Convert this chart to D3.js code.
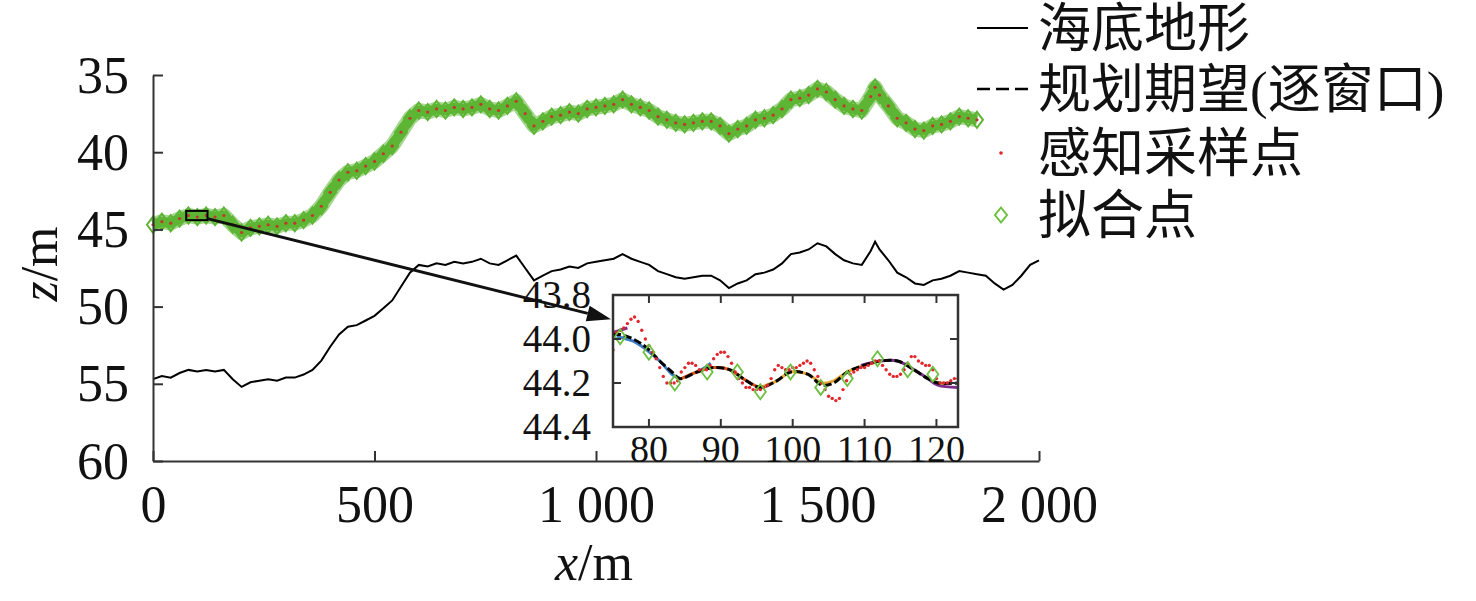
<!DOCTYPE html>
<html><head><meta charset="utf-8">
<script src="https://cdn.jsdelivr.net/npm/d3@7/dist/d3.min.js"></script>
<style>html,body{margin:0;padding:0;background:#fff;} svg{display:block;}</style>
</head><body><svg id="c" width="1476" height="601"></svg>
<script>
// ---------------- data ----------------
const terrainX = [0,20,40,60,80,100,120,140,160,180,200,220,240,260,280,300,320,340,360,380,
  400,420,440,460,480,500,520,540,560,580,600,620,640,660,680,700,720,740,760,780,
  800,820,840,860,880,900,920,940,960,980,1000,1020,1040,1060,1080,1100,1120,1140,1160,1180,
  1200,1220,1240,1260,1280,1300,1320,1340,1360,1380,1400,1420,1440,1460,1480,1500,1520,1540,1560,1580,
  1600,1620,1630,1640,1660,1680,1700,1720,1740,1760,1780,1800,1820,1840,1860,1880,1900,1920,1940,1960,1980,2000];
const terrainZ = [54.7,54.5,54.6,54.3,54.1,54.2,54.1,54.2,54.1,54.7,55.2,54.9,54.8,54.7,54.8,54.6,54.6,54.4,54.1,53.5,
  52.6,51.8,51.3,51.2,50.9,50.6,50.1,49.6,48.7,47.8,47.3,47.4,47.2,47.3,47.1,47.2,47.1,46.9,47.2,47.3,
  47.0,46.7,47.5,48.3,48.0,47.7,47.6,47.4,47.5,47.2,47.1,47.0,46.9,46.6,46.9,47.1,47.3,47.7,47.9,48.1,
  48.2,48.1,48.0,48.0,48.3,48.8,48.5,48.3,47.9,47.8,47.6,47.2,46.6,46.5,46.3,45.9,46.1,46.6,47.0,47.2,
  47.3,46.4,45.8,46.3,47.0,47.8,48.1,48.5,48.6,48.3,48.2,48.0,47.7,47.8,47.9,48.0,48.5,48.9,48.6,48.0,47.3,47.0];

const planX = [0,20,40,60,80,100,120,140,160,180,200,220,240,260,280,300,320,340,360,380,
  400,420,440,460,480,500,520,540,560,580,600,620,640,660,680,700,720,740,760,780,
  800,820,840,860,880,900,920,940,960,980,1000,1020,1040,1060,1080,1100,1120,1140,1160,1180,
  1200,1220,1240,1260,1280,1300,1320,1340,1360,1380,1400,1420,1440,1460,1480,1500,1520,1540,1560,1580,
  1600,1620,1630,1640,1660,1680,1700,1720,1740,1760,1780,1800,1820,1840,1860];
const planZ = [44.7,44.5,44.6,44.3,44.1,44.2,44.1,44.2,44.1,44.7,45.2,44.9,44.8,44.7,44.8,44.6,44.6,44.4,44.1,43.5,
  42.6,41.8,41.3,41.2,40.9,40.6,40.1,39.6,38.7,37.8,37.3,37.4,37.2,37.3,37.1,37.2,37.1,36.9,37.2,37.3,
  37.0,36.7,37.5,38.3,38.0,37.7,37.6,37.4,37.5,37.2,37.1,37.0,36.9,36.6,36.9,37.1,37.3,37.7,37.9,38.1,
  38.2,38.1,38.0,38.0,38.3,38.8,38.5,38.3,37.9,37.8,37.6,37.2,36.6,36.5,36.3,35.9,36.1,36.6,37.0,37.2,
  37.3,36.4,35.8,36.3,37.0,37.8,38.1,38.5,38.6,38.3,38.2,38.0,37.7,37.8,37.9];

const xTicks = [0,500,1000,1500,2000];
const xTickLabels = ["0","500","1 000","1 500","2 000"];
const yTicks = [35,40,45,50,55,60];

// zoom window
const zoomXRange = [75,123];
const zoomZRange = [43.8,44.4];
const insetXTicks = [80,90,100,110,120];
const insetYTicks = [43.8,44.0,44.2,44.4];
const insetYLabels = ["43.8","44.0","44.2","44.4"];

// inset: planned expectation (dashed black)
const insetPlanX = [75,76,77.8,79.7,81.5,83.2,84.3,86.7,89,91.3,93.1,95.5,97.8,99.7,102.1,104.1,105.7,107.6,109.9,112.2,114.6,116.4,118.8,120.2,123];
const insetPlanZ = [43.98,43.98,44.0,44.04,44.1,44.15,44.18,44.15,44.13,44.14,44.18,44.22,44.19,44.15,44.16,44.21,44.2,44.15,44.12,44.1,44.1,44.13,44.18,44.2,44.2];

// inset: sensing samples (red dots)
const sensX = [75,75.5,76,76.5,77,77.5,78,78.5,79,79.5,80,80.5,81,81.5,82,82.5,83,83.5,84,84.5,
  85,85.5,86,86.5,87,87.5,88,88.5,89,89.5,90,90.5,91,91.5,92,92.5,93,93.5,94,94.5,
  95,95.5,96,96.5,97,97.5,98,98.5,99,99.5,100,100.5,101,101.5,102,102.5,103,103.5,104,104.5,
  105,105.5,106,106.5,107,107.5,108,108.5,109,109.5,110,110.5,111,111.5,112,112.5,113,113.5,114,114.5,
  115,115.5,116,116.5,117,117.5,118,118.5,119,119.5,120,120.5,121,121.5,122,122.5,123];
const sensZ = [44.05,43.97,43.96,43.95,43.93,43.91,43.90,43.92,43.96,44.00,44.03,44.06,44.09,44.13,44.17,44.20,44.20,44.20,44.19,44.15,
  44.13,44.11,44.11,44.12,44.14,44.14,44.14,44.12,44.09,44.07,44.06,44.06,44.08,44.11,44.15,44.18,44.20,44.22,44.22,44.23,
  44.23,44.23,44.22,44.21,44.18,44.14,44.12,44.13,44.14,44.14,44.13,44.13,44.12,44.11,44.10,44.11,44.14,44.17,44.20,44.23,
  44.26,44.27,44.28,44.27,44.23,44.19,44.16,44.15,44.14,44.13,44.13,44.12,44.11,44.10,44.10,44.12,44.14,44.16,44.17,44.17,
  44.16,44.14,44.11,44.08,44.08,44.10,44.11,44.12,44.12,44.14,44.18,44.20,44.20,44.20,44.19,44.18,44.18];

// inset: fitted points (green diamonds)
const fitX = [76,80,83.6,88.1,92.3,95.5,99.7,103.9,107.6,111.8,116,119.5];
const fitZ = [43.99,44.06,44.2,44.15,44.15,44.24,44.15,44.22,44.18,44.09,44.14,44.16];

// inset: per-window fitted curves
const segColors = ["#7E2F8E","#3d7ec6","#3d7ec6","#D95319","#E8A735","#7E2F8E","#77AC30"];
const segX = [[75,76,77],[75.5,77.8,79.7,81.5,83.2,84.3],[86.8,87.8,88.6],[84.5,86.7,89,91.3,93.1,95.5,96.5],
  [95.5,97.8,99.7,102.1,104.1,105.7,107.6,109.9,112.2],[109.5,112.2,114.6,116.4,118.8,120.2,123],[119.5,120.5,122]];
const segZ = [[43.97,43.96,43.95],[43.99,44.01,44.05,44.1,44.16,44.18],[44.15,44.13,44.11],[44.18,44.15,44.13,44.14,44.18,44.22,44.21],
  [44.22,44.19,44.15,44.16,44.2,44.19,44.15,44.12,44.1],[44.12,44.1,44.1,44.13,44.18,44.21,44.22],[44.19,44.2,44.2]];

const legendLabels = ["海底地形","规划期望(逐窗口)","感知采样点","拟合点"];

// ---------------- drawing ----------------
const SERIF = "'Liberation Serif','Times New Roman',serif";
const CJK = "'Liberation Serif','Noto Sans CJK SC',sans-serif";
const GREEN = "#5db534", RED = "#e3262e", AXIS = "#333";

const svg = d3.select("#c");
const x = d3.scaleLinear([0,2000],[153,1039]);
const y = d3.scaleLinear([35,60],[75,461]);

const terr = terrainX.map((v,i)=>[v,terrainZ[i]]);
const plan = planX.map((v,i)=>[v,planZ[i]]);
const line = d3.line().x(d=>x(d[0])).y(d=>y(d[1]));

// terrain
svg.append("path").attr("d",line(terr)).attr("fill","none").attr("stroke","#000").attr("stroke-width",2);
// planned dashed (under band)
svg.append("path").attr("d",line(plan)).attr("fill","none").attr("stroke","#000").attr("stroke-width",2).attr("stroke-dasharray","10,5");
// green band of fitted points
svg.append("path").attr("d",line(plan)).attr("fill","none").attr("stroke",GREEN).attr("stroke-width",15).attr("stroke-opacity",0.55).attr("stroke-linejoin","round");
svg.append("path").attr("d",line(plan)).attr("fill","none").attr("stroke",GREEN).attr("stroke-width",10).attr("stroke-linejoin","round");
const dia = (w,h)=>`M0,${-h/2}L${w/2},0L0,${h/2}L${-w/2},0Z`;
svg.append("g").selectAll("path").data(plan).join("path")
  .attr("d",dia(12,16)).attr("transform",d=>`translate(${x(d[0])},${y(d[1])})`)
  .attr("fill","none").attr("stroke",GREEN).attr("stroke-width",2);
svg.append("g").selectAll("circle").data(plan).join("circle")
  .attr("cx",d=>x(d[0])).attr("cy",d=>y(d[1])).attr("r",1.6).attr("fill","#c0392b");

// axes
const gy = svg.append("g").attr("transform",`translate(${x(0)},0)`)
  .call(d3.axisLeft(y).tickValues(yTicks).tickSize(-10).tickSizeOuter(0).tickPadding(24));
const gx = svg.append("g").attr("transform",`translate(0,${y(60)})`)
  .call(d3.axisBottom(x).tickValues(xTicks).tickFormat((d,i)=>xTickLabels[i]).tickSize(-10).tickSizeOuter(0));
[gx,gy].forEach(g=>{
  g.select(".domain").attr("stroke",AXIS).attr("stroke-width",2);
  g.selectAll(".tick line").attr("stroke",AXIS).attr("stroke-width",2);
  g.selectAll(".tick text").attr("font-family",SERIF).attr("font-size",52).attr("fill","#111");
});
gx.selectAll(".tick text").attr("y",61).attr("dy",0);
gy.selectAll(".tick text").attr("dy","0.33em");

// axis titles
const xt = svg.append("text").attr("x",594).attr("y",580).attr("text-anchor","middle")
  .attr("font-family",SERIF).attr("font-size",52).attr("fill","#111");
xt.append("tspan").attr("font-style","italic").text("x");
xt.append("tspan").text("/m");
const yt = svg.append("text").attr("transform","translate(57,264) rotate(-90)").attr("text-anchor","middle")
  .attr("font-family",SERIF).attr("font-size",52).attr("fill","#111");
yt.append("tspan").attr("font-style","italic").text("z");
yt.append("tspan").text("/m");

// zoom rectangle
svg.append("rect").attr("x",x(zoomXRange[0])).attr("y",y(zoomZRange[0]))
  .attr("width",x(zoomXRange[1])-x(zoomXRange[0])).attr("height",y(zoomZRange[1])-y(zoomZRange[0]))
  .attr("fill","none").attr("stroke","#000").attr("stroke-width",2);

// ---------------- inset ----------------
const ix = d3.scaleLinear(zoomXRange,[613,958]);
const iy = d3.scaleLinear(zoomZRange,[295,427]);
const inset = svg.append("g");
inset.append("rect").attr("x",613).attr("y",295).attr("width",345).attr("height",132).attr("fill","#fff");
svg.append("defs").append("clipPath").attr("id","ic").append("rect").attr("x",613).attr("y",295).attr("width",345).attr("height",132);
const ic = inset.append("g").attr("clip-path","url(#ic)");
const iline = d3.line().x(d=>ix(d[0])).y(d=>iy(d[1])).curve(d3.curveCatmullRom.alpha(0.5));
segX.forEach((xs,k)=>{
  ic.append("path").attr("d",iline(xs.map((v,i)=>[v,segZ[k][i]]))).attr("fill","none")
    .attr("stroke",segColors[k]).attr("stroke-width",3);
});
ic.append("path").attr("d",iline(insetPlanX.map((v,i)=>[v,insetPlanZ[i]]))).attr("fill","none")
  .attr("stroke","#000").attr("stroke-width",3).attr("stroke-dasharray","8,3");
ic.append("g").selectAll("circle").data(sensX.map((v,i)=>[v,sensZ[i]])).join("circle")
  .attr("cx",d=>ix(d[0])).attr("cy",d=>iy(d[1])).attr("r",1.7).attr("fill",RED);
ic.append("g").selectAll("path").data(fitX.map((v,i)=>[v,fitZ[i]])).join("path")
  .attr("d",dia(11,15)).attr("transform",d=>`translate(${ix(d[0])},${iy(d[1])})`)
  .attr("fill","none").attr("stroke","#6cbf3f").attr("stroke-width",1.8);
// inset ticks
insetXTicks.forEach(t=>{
  inset.append("line").attr("x1",ix(t)).attr("x2",ix(t)).attr("y1",295).attr("y2",303).attr("stroke",AXIS).attr("stroke-width",2);
  inset.append("line").attr("x1",ix(t)).attr("x2",ix(t)).attr("y1",427).attr("y2",419).attr("stroke",AXIS).attr("stroke-width",2);
  inset.append("text").attr("x",ix(t)).attr("y",462).attr("text-anchor","middle")
    .attr("font-family",SERIF).attr("font-size",38).attr("fill","#111").text(t);
});
insetYTicks.forEach((t,i)=>{
  inset.append("line").attr("x1",613).attr("x2",621).attr("y1",iy(t)).attr("y2",iy(t)).attr("stroke",AXIS).attr("stroke-width",2);
  inset.append("line").attr("x1",958).attr("x2",950).attr("y1",iy(t)).attr("y2",iy(t)).attr("stroke",AXIS).attr("stroke-width",2);
  inset.append("text").attr("x",591).attr("y",iy(t)).attr("dy","0.33em").attr("text-anchor","end")
    .attr("font-family",SERIF).attr("font-size",39).attr("fill","#111").text(insetYLabels[i]);
});
inset.append("rect").attr("x",613).attr("y",295).attr("width",345).attr("height",132)
  .attr("fill","none").attr("stroke",AXIS).attr("stroke-width",2.5);

// arrow
const a0 = [x(zoomXRange[1]), y(44.3)];
const a1 = [ix(zoomXRange[0])-2, iy(43.91)];
const ang = Math.atan2(a1[1]-a0[1], a1[0]-a0[0]);
const L = 24, W = 8;
const base = [a1[0]-L*Math.cos(ang), a1[1]-L*Math.sin(ang)];
svg.append("line").attr("x1",a0[0]).attr("y1",a0[1]).attr("x2",base[0]).attr("y2",base[1]).attr("stroke","#111").attr("stroke-width",3);
svg.append("path").attr("d",`M${a1[0]},${a1[1]}L${base[0]-W*Math.sin(ang)},${base[1]+W*Math.cos(ang)}L${base[0]+W*Math.sin(ang)},${base[1]-W*Math.cos(ang)}Z`).attr("fill","#111");

// ---------------- legend ----------------
const lg = svg.append("g");
const rowsY = [28,89,153,215];
lg.append("line").attr("x1",977).attr("x2",1028).attr("y1",rowsY[0]).attr("y2",rowsY[0]).attr("stroke","#000").attr("stroke-width",2);
lg.append("line").attr("x1",977).attr("x2",1032).attr("y1",rowsY[1]).attr("y2",rowsY[1]).attr("stroke","#000").attr("stroke-width",2.5).attr("stroke-dasharray","13,6");
lg.append("circle").attr("cx",1001).attr("cy",rowsY[2]).attr("r",1.8).attr("fill",RED);
lg.append("path").attr("d",dia(12,15)).attr("transform",`translate(1001,${rowsY[3]})`).attr("fill","none").attr("stroke","#6cbf3f").attr("stroke-width",2);
legendLabels.forEach((t,i)=>{
  lg.append("text").attr("x",1038).attr("y",rowsY[i]+19).attr("font-family",CJK).attr("font-size",53).attr("fill","#111").text(t);
});
</script></body></html>
